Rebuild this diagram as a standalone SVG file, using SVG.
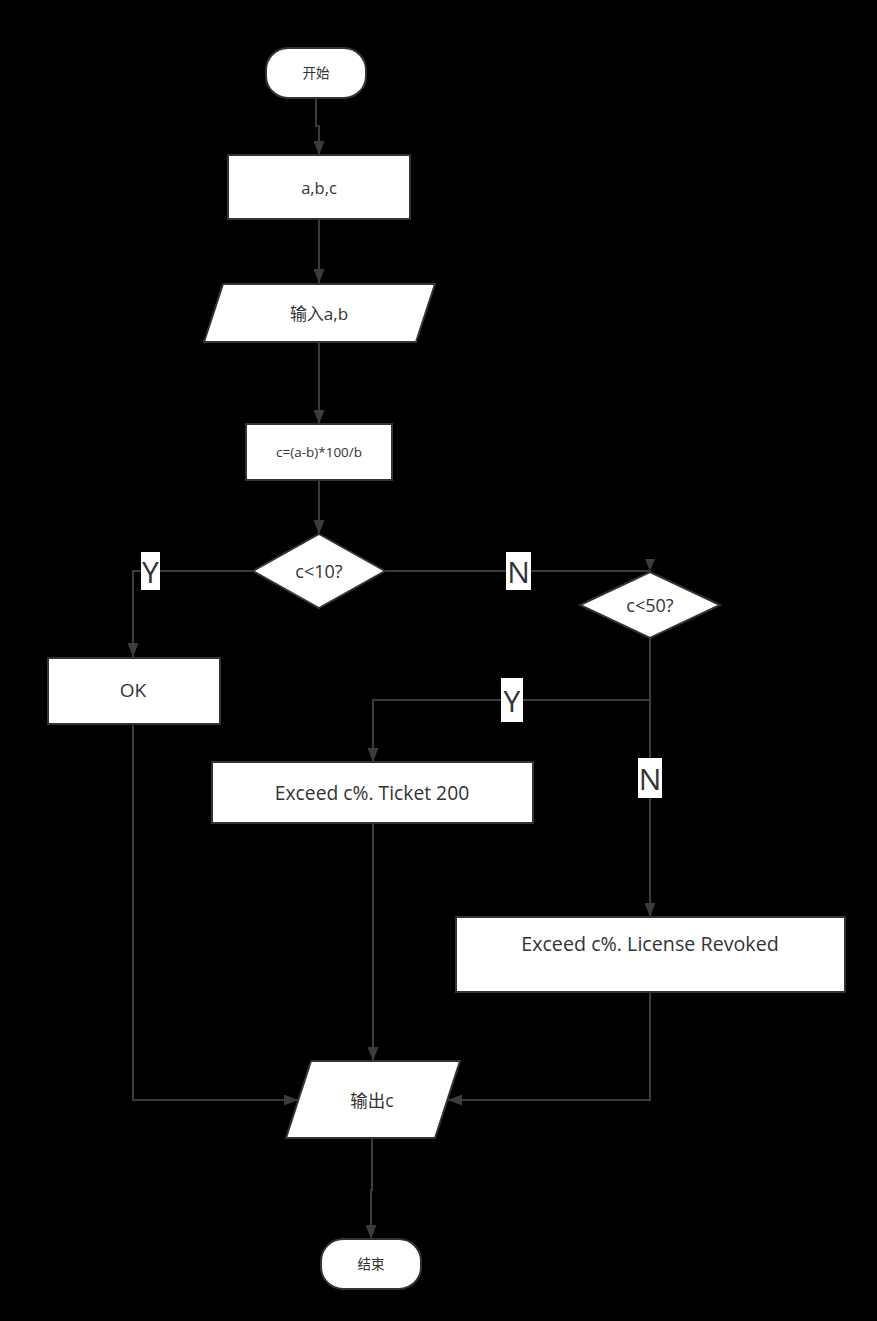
<svg xmlns="http://www.w3.org/2000/svg" width="877" height="1321" viewBox="0 0 877 1321">
<defs>
<style>
.shape{fill:#ffffff;stroke:#333333;stroke-width:2}
.line{fill:none;stroke:#3c3c3c;stroke-width:2}
.t{font-family:"Open Sans","Noto Sans CJK SC",sans-serif;fill:#333333;text-anchor:middle;dominant-baseline:central}
.lbl{font-family:"Open Sans","Noto Sans",sans-serif;fill:#333333;text-anchor:middle;dominant-baseline:central;font-size:30px}
.lblbg{fill:#ffffff}
</style>
<marker id="arr" viewBox="0 0 14 11" refX="14" refY="5.5" markerWidth="14" markerHeight="11" markerUnits="userSpaceOnUse" orient="auto">
<path d="M0,0 L14,5.5 L0,11 z" fill="#3c3c3c"/>
</marker>
</defs>
<rect width="877" height="1321" fill="#000000"/>
<g id="connectors">
<path class="line" d="M316,98 V126 H319 V155" marker-end="url(#arr)"/>
<path class="line" d="M319,219 V283" marker-end="url(#arr)"/>
<path class="line" d="M319,342 V424" marker-end="url(#arr)"/>
<path class="line" d="M319,480 V534" marker-end="url(#arr)"/>
<path class="line" d="M253,571 H133 V657" marker-end="url(#arr)"/>
<path class="line" d="M385,571 H650 V572" />
<path d="M645,559 L655,559 L650,571 z" fill="#3c3c3c"/>
<path class="line" d="M650,638 V700 H373 V762" marker-end="url(#arr)"/>
<path class="line" d="M650,700 V917" marker-end="url(#arr)"/>
<path class="line" d="M373,823 V1061" marker-end="url(#arr)"/>
<path class="line" d="M133,724 V1100 H298" marker-end="url(#arr)"/>
<path class="line" d="M650,992 V1100 H448" marker-end="url(#arr)"/>
<path class="line" d="M372,1138 V1190 H371 V1239" marker-end="url(#arr)"/>
<rect class="lblbg" x="141" y="552" width="19" height="38"/>
<text class="lbl" x="150.5" y="571">Y</text>
<rect class="lblbg" x="506" y="552" width="25" height="38"/>
<text class="lbl" x="518.5" y="571">N</text>
<rect class="lblbg" x="501" y="678" width="22" height="44"/>
<text class="lbl" x="512" y="700">Y</text>
<rect class="lblbg" x="638" y="758" width="24" height="40"/>
<text class="lbl" x="650" y="778">N</text>
</g>
<g id="start">
<rect class="shape" x="266" y="48" width="100" height="50" rx="22" ry="22"/>
<text class="t" x="316" y="73" font-size="13.5">开始</text>
</g>
<g id="abc">
<rect class="shape" x="228" y="155" width="182" height="64"/>
<text class="t" x="319" y="187" font-size="16.5">a,b,c</text>
</g>
<g id="input">
<polygon class="shape" points="223,284 435,284 416,342 204,342"/>
<text class="t" x="319" y="313" font-size="17">输入a,b</text>
</g>
<g id="calc">
<rect class="shape" x="246" y="424" width="146" height="56"/>
<text class="t" x="319" y="452" font-size="13.5">c=(a-b)*100/b</text>
</g>
<g id="dec10">
<polygon class="shape" points="319,534 385,571 319,608 253,571"/>
<text class="t" x="319" y="571" font-size="18">c&lt;10?</text>
</g>
<g id="dec50">
<polygon class="shape" points="650,572 720,605 650,638 580,605"/>
<text class="t" x="650" y="605" font-size="18">c&lt;50?</text>
</g>
<g id="ok">
<rect class="shape" x="48" y="658" width="172" height="66"/>
<text class="t" x="133" y="690" font-size="19">OK</text>
</g>
<g id="ticket">
<rect class="shape" x="212" y="762" width="321" height="61"/>
<text class="t" x="372" y="792" font-size="19.3">Exceed c%. Ticket 200</text>
</g>
<g id="license">
<rect class="shape" x="456" y="917" width="389" height="75"/>
<text class="t" x="650" y="943" font-size="19.7">Exceed c%. License Revoked</text>
</g>
<g id="output">
<polygon class="shape" points="311,1061 460,1061 435,1138 286,1138"/>
<text class="t" x="372" y="1100" font-size="17.5">输出c</text>
</g>
<g id="end">
<rect class="shape" x="321" y="1239" width="100" height="50" rx="22" ry="22"/>
<text class="t" x="371" y="1264" font-size="13.5">结束</text>
</g>
</svg>
